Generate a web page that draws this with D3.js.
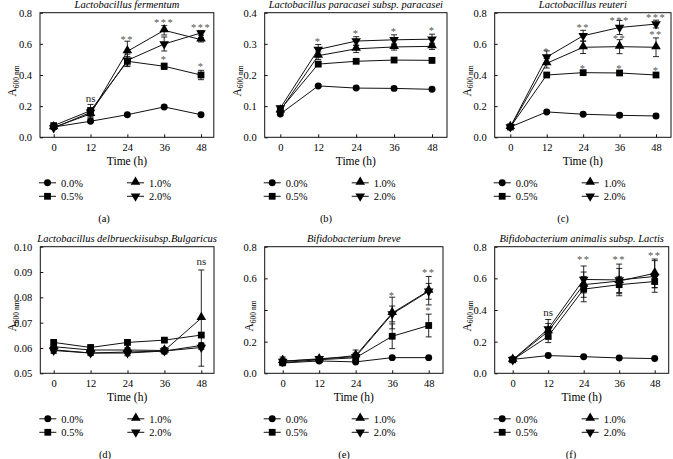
<!DOCTYPE html>
<html><head><meta charset="utf-8">
<script src="https://cdn.jsdelivr.net/npm/d3@7"></script>
<style>
body{margin:0;background:#fff}
svg{display:block}
svg text{font-family:"Liberation Serif",serif !important;fill:#000}
</style></head><body>
<svg id="c" width="673" height="459"></svg>
<script>
const times = [0, 12, 24, 36, 48];
const seriesNames = ["0.0%", "0.5%", "1.0%", "2.0%"];
const markerTypes = ["circle", "square", "triangle", "triangleDown"];

const titles = ["Lactobacillus fermentum", "Lactobacillus paracasei subsp. paracasei", "Lactobacillus reuteri",
  "Lactobacillus delbrueckiisubsp.Bulgaricus", "Bifidobacterium breve", "Bifidobacterium animalis subsp. Lactis"];
const subLabels = ["(a)", "(b)", "(c)", "(d)", "(e)", "(f)"];

const meanA = [[0.066,0.103,0.145,0.195,0.145],[0.075,0.171,0.488,0.456,0.400],[0.064,0.150,0.552,0.687,0.627],[0.060,0.160,0.494,0.599,0.670]];
const errA  = [[0.006,0.008,0.006,0.006,0.006],[0.010,0.040,0.030,0.020,0.030],[0.010,0.030,0.065,0.030,0.015],[0.010,0.030,0.040,0.045,0.015]];
const starsA = [[12,0.227,"ns"],[24,0.608,"**"],[36,0.717,"***"],[36,0.478,"*"],[48,0.680,"***"],[48,0.430,"*"]];

const meanB = [[0.075,0.165,0.158,0.157,0.154],[0.089,0.235,0.244,0.248,0.247],[0.086,0.262,0.284,0.290,0.292],[0.094,0.282,0.309,0.313,0.315]];
const errB  = [[0.004,0.004,0.004,0.004,0.004],[0.006,0.008,0.006,0.006,0.008],[0.006,0.012,0.012,0.010,0.010],[0.006,0.016,0.014,0.016,0.016]];
const starsB = [[12,0.295,"*"],[24,0.322,"*"],[36,0.327,"*"],[48,0.333,"*"]];

const meanC = [[0.066,0.163,0.148,0.141,0.137],[0.066,0.400,0.415,0.413,0.400],[0.066,0.475,0.578,0.582,0.578],[0.066,0.515,0.652,0.705,0.727]];
const errC  = [[0.005,0.008,0.008,0.012,0.012],[0.005,0.010,0.010,0.010,0.010],[0.005,0.030,0.040,0.045,0.060],[0.005,0.040,0.035,0.045,0.025]];
const starsC = [[12,0.531,"*"],[24,0.685,"**"],[24,0.417,"*"],[36,0.727,"***"],[36,0.612,"**"],[36,0.417,"*"],[48,0.748,"***"],[48,0.638,"**"],[48,0.406,"*"]];

const meanD = [[0.0593,0.0580,0.0584,0.0588,0.0610],[0.0622,0.0602,0.0622,0.0631,0.0651],[0.0605,0.0592,0.0592,0.0590,0.0718],[0.0590,0.0580,0.0580,0.0588,0.0602]];
const errD  = [[0.0015,0.0010,0.0015,0.0012,0.0010],[0.0005,0.0005,0.0005,0.0005,0.0005],[0.0008,0.0008,0.0008,0.0012,0.0190],[0.0008,0.0008,0.0008,0.0008,0.0008]];
const starsD = [[48,0.0926,"ns"]];

const meanE = [[0.065,0.078,0.072,0.099,0.099],[0.068,0.086,0.098,0.234,0.302],[0.078,0.088,0.112,0.381,0.522],[0.075,0.092,0.105,0.375,0.518]];
const errE  = [[0.005,0.005,0.005,0.005,0.005],[0.020,0.010,0.030,0.078,0.072],[0.025,0.010,0.035,0.100,0.090],[0.020,0.010,0.020,0.050,0.050]];
const starsE = [[36,0.471,"*"],[48,0.612,"**"],[48,0.372,"*"]];

const meanF = [[0.088,0.112,0.105,0.097,0.093],[0.085,0.234,0.532,0.560,0.580],[0.085,0.265,0.560,0.583,0.632],[0.085,0.280,0.593,0.590,0.612]];
const errF  = [[0.008,0.005,0.005,0.005,0.005],[0.010,0.040,0.080,0.050,0.040],[0.010,0.050,0.080,0.080,0.090],[0.010,0.060,0.085,0.100,0.100]];
const starsF = [[12,0.362,"ns"],[24,0.696,"**"],[36,0.696,"**"],[48,0.724,"**"]];

const yTicks08 = [0, 0.2, 0.4, 0.6, 0.8];
const yTicks04 = [0, 0.1, 0.2, 0.3, 0.4];
const yTicksD  = [0.05, 0.06, 0.07, 0.08, 0.09, 0.10];

const panels = [
  {means: meanA, errs: errA, stars: starsA, yDom: [0, 0.8], ticks: yTicks08, fmt: ".1f", L: 40,    R: 213.8, T: 12.7,  B: 137.3, x0: 53.7,  x48: 201,   sub: 104},
  {means: meanB, errs: errB, stars: starsB, yDom: [0, 0.4], ticks: yTicks04, fmt: ".1f", L: 264.7, R: 447,   T: 12.7,  B: 137.3, x0: 280.3, x48: 432,   sub: 326},
  {means: meanC, errs: errC, stars: starsC, yDom: [0, 0.8], ticks: yTicks08, fmt: ".1f", L: 494.7, R: 671,   T: 12.7,  B: 137.3, x0: 510.3, x48: 656,   sub: 563},
  {means: meanD, errs: errD, stars: starsD, yDom: [0.05, 0.10], ticks: yTicksD, fmt: ".2f", L: 40.3, R: 214, T: 246.7, B: 373.3, x0: 53.7,  x48: 201.3, sub: 105},
  {means: meanE, errs: errE, stars: starsE, yDom: [0, 0.8], ticks: yTicks08, fmt: ".1f", L: 264.7, R: 443,   T: 246.7, B: 373.3, x0: 282.7, x48: 428.7, sub: 344, hideTick: 0.4, ylabX: 249},
  {means: meanF, errs: errF, stars: starsF, yDom: [0, 0.8], ticks: yTicks08, fmt: ".1f", L: 494.7, R: 668.7, T: 246.7, B: 373.3, x0: 512.7, x48: 654.7, sub: 571}
];

const FONT = '"Liberation Serif", serif';
const svg = d3.select("#c").attr("font-family", FONT);

function symbolFor(type) {
  if (type === "circle") return d3.symbol().type(d3.symbolCircle).size(38)();
  if (type === "square") return d3.symbol().type(d3.symbolSquare).size(46)();
  return d3.symbol().type(d3.symbolTriangle).size(40)();
}
function drawMarker(g, type, x, y) {
  const p = g.append("path").attr("d", symbolFor(type)).attr("fill", "#000");
  if (type === "triangleDown") p.attr("transform", `translate(${x},${y}) rotate(180)`);
  else if (type === "triangle") p.attr("transform", `translate(${x},${y - 0.8})`);
  else p.attr("transform", `translate(${x},${y})`);
}

panels.forEach((p, i) => {
  const g = svg.append("g");
  const x = d3.scaleLinear().domain([0, 48]).range([p.x0, p.x48]);
  const y = d3.scaleLinear().domain(p.yDom).range([p.B, p.T]);
  const f = d3.format(p.fmt);

  g.append("rect").attr("x", p.L).attr("y", p.T).attr("width", p.R - p.L).attr("height", p.B - p.T)
    .attr("fill", "none").attr("stroke", "#111").attr("stroke-width", 1);

  const ya = g.append("g").attr("transform", `translate(${p.L},0)`)
    .call(d3.axisLeft(y).tickValues(p.ticks).tickSizeInner(-3).tickSizeOuter(0).tickPadding(8)
      .tickFormat(d => (p.hideTick !== undefined && Math.abs(d - p.hideTick) < 1e-9) ? "" : f(d)));
  ya.attr("font-family", null);
  ya.select(".domain").remove();
  ya.selectAll("line").attr("stroke", "#111");
  ya.selectAll("text").attr("font-size", 10.5).style("font-family", FONT);

  const xa = g.append("g").attr("transform", `translate(0,${p.B})`)
    .call(d3.axisBottom(x).tickValues(times).tickSizeInner(-3).tickSizeOuter(0).tickPadding(6).tickFormat(d3.format("d")));
  xa.attr("font-family", null);
  xa.select(".domain").remove();
  xa.selectAll("line").attr("stroke", "#111");
  xa.selectAll("text").attr("font-size", 10.5).style("font-family", FONT);

  g.append("text").attr("x", (p.L + p.R) / 2).attr("y", p.T - 5).attr("text-anchor", "middle")
    .attr("font-size", 10.5).attr("font-style", "italic").style("font-family", FONT).text(titles[i]);

  g.append("text").attr("x", (p.L + p.R) / 2).attr("y", p.B + 27.5).attr("text-anchor", "middle")
    .attr("font-size", 11.5).style("font-family", FONT).text("Time (h)");

  const yl = p.ylabX !== undefined ? p.ylabX : p.L - 28;
  const yt = g.append("text").attr("transform", `translate(${yl + 4},${(p.T + p.B) / 2 + 6}) rotate(-90)`)
    .attr("text-anchor", "middle").attr("font-size", 11.5).style("font-family", FONT);
  yt.append("tspan").text("A");
  yt.append("tspan").attr("font-size", 7.5).attr("dy", 2.5).text("600 nm");

  const line = d3.line().x((d, k) => x(times[k])).y(d => y(d));
  p.means.forEach((s) => {
    g.append("path").attr("d", line(s)).attr("fill", "none").attr("stroke", "#111").attr("stroke-width", 1);
  });
  p.means.forEach((s, si) => {
    s.forEach((v, k) => {
      const e = p.errs[si][k];
      const cx = x(times[k]);
      const y1 = y(v + e), y2 = y(v - e);
      g.append("line").attr("x1", cx).attr("x2", cx).attr("y1", y1).attr("y2", y2).attr("stroke", "#111").attr("stroke-width", 0.9);
      [y1, y2].forEach(yy => g.append("line").attr("x1", cx - 3).attr("x2", cx + 3).attr("y1", yy).attr("y2", yy)
        .attr("stroke", "#111").attr("stroke-width", 0.9));
    });
  });
  p.means.forEach((s, si) => {
    s.forEach((v, k) => drawMarker(g, markerTypes[si], x(times[k]), y(v)));
  });

  p.stars.forEach(([t, v, txt]) => {
    const isStar = txt.indexOf("*") >= 0;
    g.append("text").attr("x", x(t)).attr("y", y(v)).attr("text-anchor", "middle")
      .attr("font-size", isStar ? 10.5 : 11).attr("letter-spacing", isStar ? 1.5 : 0)
      .style("font-family", FONT)
      .style("fill", isStar ? "#555" : "#222").text(txt);
  });

  seriesNames.forEach((name, si) => {
    const col = si === 0 || si === 1 ? 0 : 1;
    const row = si === 0 || si === 2 ? 0 : 1;
    const lx = p.L - 1 + col * 88;
    const ly = p.B + 45.5 + row * 13.5;
    g.append("line").attr("x1", lx).attr("x2", lx + 17).attr("y1", ly).attr("y2", ly).attr("stroke", "#111").attr("stroke-width", 1);
    drawMarker(g, markerTypes[si], lx + 8.5, ly);
    g.append("text").attr("x", lx + 22).attr("y", ly + 3.7).attr("font-size", 10.5).style("font-family", FONT).text(name);
  });

  g.append("text").attr("x", p.sub).attr("y", p.B + 85).attr("text-anchor", "middle").attr("font-size", 10.5)
    .style("font-family", FONT).text(subLabels[i]);
});
</script>
</body></html>
